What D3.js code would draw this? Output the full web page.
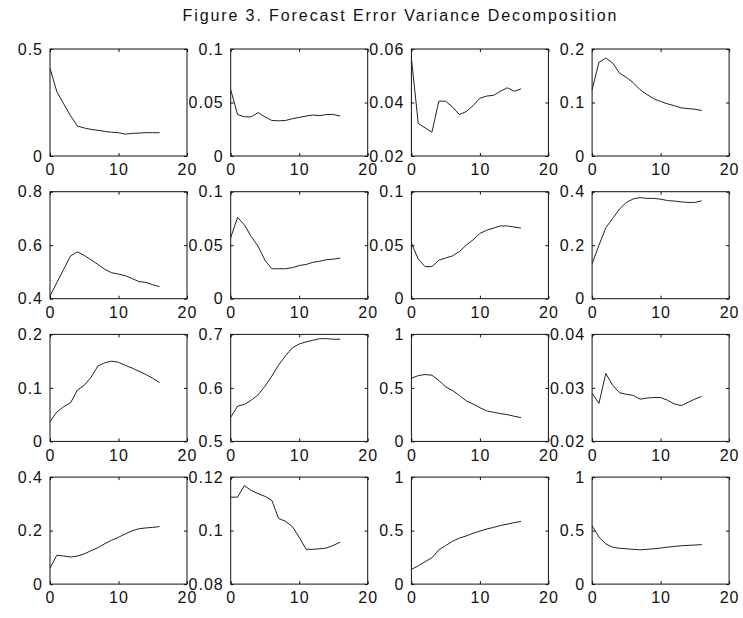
<!DOCTYPE html>
<html>
<head>
<meta charset="utf-8">
<script src="https://cdn.jsdelivr.net/npm/d3@7/dist/d3.min.js"></script>
<style>
	body { margin: 0; background: #fff; }
	svg { display: block; }
	.cadre { fill: none; stroke: #111; stroke-width: 1; }
	.courbe { fill: none; stroke: #222; stroke-width: 1; stroke-linejoin: round; }
	.axis path { display: none; }
	.axis line { stroke: #111; }
	.axis text, .titre { font-family: "Liberation Sans", Arial, sans-serif; fill: #111; }
	.axis text { font-size: 16px; letter-spacing: 1px; }
	.titre { font-size: 16px; }
</style>
</head>
<body>
<div id="figure"></div>
<script>
"use strict";

/*
	DONNÉES	****	****	****	****	****	*/

var titre = "Figure 3. Forecast Error Variance Decomposition";

var horizon = [0, 1, 2, 3, 4, 5, 6, 7, 8, 9, 10, 11, 12, 13, 14, 15, 16];
var ticksX = [0, 10, 20];

// ligne 1
var v11 = [0.41, 0.3, 0.244, 0.188, 0.14, 0.131, 0.124, 0.12, 0.115, 0.111, 0.109, 0.102, 0.106, 0.107, 0.109, 0.109, 0.109];
var v12 = [0.062, 0.0388, 0.0366, 0.0366, 0.0406, 0.0366, 0.0332, 0.0329, 0.0332, 0.0348, 0.0361, 0.0373, 0.0383, 0.0377, 0.0388, 0.0388, 0.0373];
var v13 = [0.0566, 0.0322, 0.0305, 0.0289, 0.0405, 0.0405, 0.0383, 0.0355, 0.0366, 0.0388, 0.0416, 0.0424, 0.0427, 0.0442, 0.0455, 0.0442, 0.0451];
var v14 = [0.124, 0.175, 0.183, 0.174, 0.155, 0.147, 0.137, 0.124, 0.115, 0.107, 0.102, 0.0975, 0.094, 0.09, 0.0886, 0.0875, 0.085];
// ligne 2
var v21 = [0.41, 0.46, 0.51, 0.56, 0.575, 0.562, 0.545, 0.528, 0.51, 0.497, 0.492, 0.486, 0.475, 0.464, 0.461, 0.452, 0.445];
var v22 = [0.057, 0.076, 0.069, 0.058, 0.049, 0.036, 0.028, 0.028, 0.028, 0.029, 0.031, 0.032, 0.034, 0.035, 0.0365, 0.037, 0.038];
var v23 = [0.052, 0.037, 0.03, 0.03, 0.036, 0.038, 0.04, 0.044, 0.05, 0.055, 0.061, 0.064, 0.066, 0.068, 0.068, 0.067, 0.066];
var v24 = [0.13, 0.2, 0.265, 0.3, 0.335, 0.36, 0.373, 0.378, 0.375, 0.375, 0.372, 0.367, 0.365, 0.362, 0.36, 0.36, 0.366];
// ligne 3
var v31 = [0.037, 0.055, 0.065, 0.072, 0.096, 0.105, 0.12, 0.141, 0.147, 0.15, 0.148, 0.142, 0.137, 0.131, 0.125, 0.118, 0.11];
var v32 = [0.545, 0.566, 0.569, 0.577, 0.587, 0.603, 0.622, 0.643, 0.66, 0.675, 0.682, 0.686, 0.689, 0.692, 0.692, 0.691, 0.691];
var v33 = [0.59, 0.615, 0.625, 0.618, 0.57, 0.51, 0.475, 0.43, 0.38, 0.35, 0.315, 0.285, 0.272, 0.26, 0.25, 0.235, 0.222];
var v34 = [0.029, 0.0271, 0.0327, 0.0305, 0.0291, 0.0288, 0.0286, 0.0279, 0.0281, 0.0282, 0.0282, 0.0277, 0.027, 0.0267, 0.0273, 0.0279, 0.0284];
// ligne 4
var v41 = [0.06, 0.108, 0.105, 0.101, 0.105, 0.113, 0.125, 0.136, 0.151, 0.164, 0.175, 0.188, 0.199, 0.207, 0.21, 0.212, 0.215];
var v42 = [0.1125, 0.1125, 0.1168, 0.115, 0.1138, 0.1128, 0.1113, 0.1045, 0.1035, 0.1015, 0.0975, 0.093, 0.093, 0.0932, 0.0935, 0.0945, 0.0957];
var v43 = [0.138, 0.17, 0.21, 0.245, 0.32, 0.36, 0.4, 0.43, 0.45, 0.475, 0.495, 0.515, 0.53, 0.548, 0.56, 0.575, 0.585];
var v44 = [0.545, 0.44, 0.375, 0.345, 0.335, 0.33, 0.325, 0.32, 0.325, 0.33, 0.337, 0.345, 0.352, 0.358, 0.362, 0.365, 0.369];

var limitesY = [
	[0, 0.5], [0, 0.1], [0.02, 0.06], [0, 0.2],
	[0.4, 0.8], [0, 0.1], [0, 0.1], [0, 0.4],
	[0, 0.2], [0.5, 0.7], [0, 1], [0.02, 0.04],
	[0, 0.4], [0.08, 0.12], [0, 1], [0, 1]
];

var ticksY = [
	[0, 0.5], [0, 0.05, 0.1], [0.02, 0.04, 0.06], [0, 0.1, 0.2],
	[0.4, 0.6, 0.8], [0, 0.05, 0.1], [0, 0.05, 0.1], [0, 0.2, 0.4],
	[0, 0.1, 0.2], [0.5, 0.6, 0.7], [0, 0.5, 1], [0.02, 0.03, 0.04],
	[0, 0.2, 0.4], [0.08, 0.1, 0.12], [0, 0.5, 1], [0, 0.5, 1]
];

var panneaux = [v11, v12, v13, v14, v21, v22, v23, v24, v31, v32, v33, v34, v41, v42, v43, v44];


/*
	MISE EN PAGE	****	****	****	****	****	*/

var dims = { largeur: 743, hauteur: 618, left: 50, top: 49, pasX: 180.7, pasY: 142.7, w: 137, h: 107 };

var svg = d3.select("#figure")
.append("svg")
.attr("width", dims.largeur)
.attr("height", dims.hauteur);

svg.append("text")
.attr("class", "titre")
.attr("x", 399.5)
.attr("y", 21)
.attr("text-anchor", "middle")
.attr("textLength", 434)
.attr("lengthAdjust", "spacing")
.text(titre);

var x = d3.scaleLinear()
.domain([0, 20])
.range([0, dims.w]);

var ligne = d3.line()
.x((d, k) => x(horizon[k]) )
.curve(d3.curveLinear);

// un petit graphe par décomposition
panneaux.forEach(function (valeurs, i) {
	var col = i % 4,
		lig = Math.floor(i / 4);

	var y = d3.scaleLinear()
	.domain(limitesY[i])
	.range([dims.h, 0]);

	var g = svg.append("g")
	.attr("transform", "translate(" + (dims.left + col * dims.pasX) + "," + (dims.top + lig * dims.pasY) + ")");

// axes, graduations intérieures façon matlab
	g.append("g")
	.attr("class", "axis")
	.attr("transform", "translate(0," + dims.h + ")")
	.call(d3.axisBottom(x)
		.tickValues(ticksX)
		.tickSize(-3)
		.tickPadding(8)
		.tickFormat(d3.format("d")));

	g.append("g")
	.attr("class", "axis")
	.call(d3.axisTop(x)
		.tickValues(ticksX)
		.tickSize(-3)
		.tickFormat(""));

	g.append("g")
	.attr("class", "axis")
	.call(d3.axisLeft(y)
		.tickValues(ticksY[i])
		.tickSize(-3)
		.tickPadding(7)
		.tickFormat(d3.format("~g")));

	g.append("g")
	.attr("class", "axis")
	.attr("transform", "translate(" + dims.w + ",0)")
	.call(d3.axisRight(y)
		.tickValues(ticksY[i])
		.tickSize(-3)
		.tickFormat(""));

	g.selectAll(".axis text")
	.attr("font-size", null)
	.attr("font-family", null);

// cadre
	g.append("rect")
	.attr("class", "cadre")
	.attr("x", 0)
	.attr("y", 0)
	.attr("width", dims.w)
	.attr("height", dims.h);

// courbe
	g.append("path")
	.datum(valeurs)
	.attr("class", "courbe")
	.attr("d", ligne.y(d => y(d) ));
});
</script>
</body>
</html>
